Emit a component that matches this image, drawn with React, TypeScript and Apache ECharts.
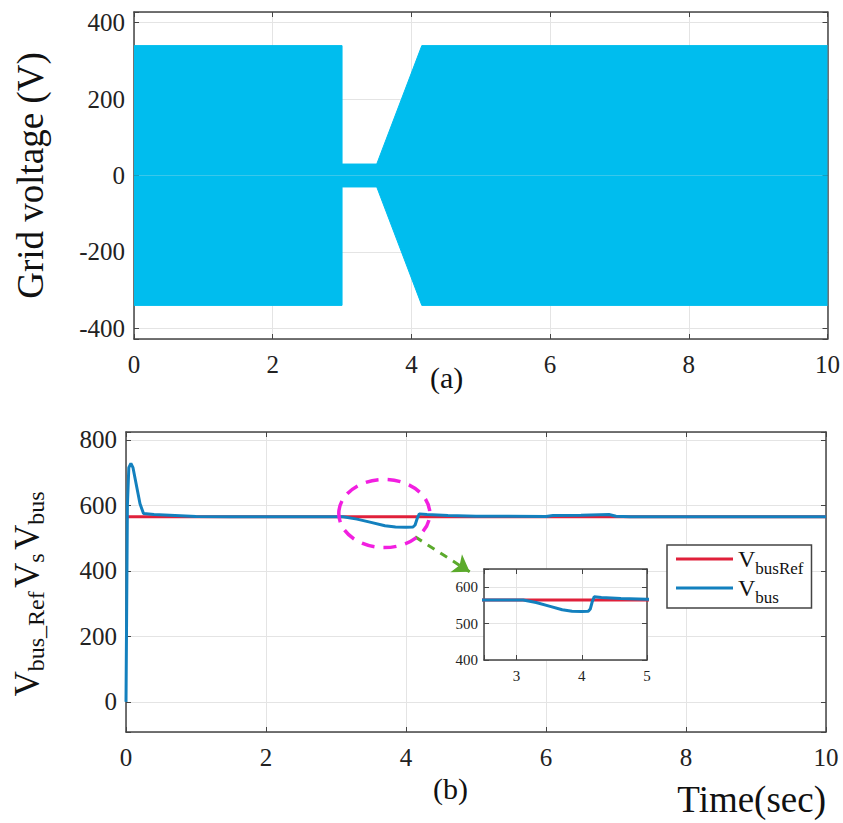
import React, { useEffect, useRef } from "react";
import * as echarts from "echarts";

// ---------- data ----------
// (a) grid voltage: the dense 50 Hz waveform is drawn as its envelope
const voltTime = [0, 3.0, 3.0, 3.5, 4.15, 10];
const voltUpper = [340, 340, 30, 30, 340, 340];
const voltLower = [-340, -340, -30, -30, -340, -340];

// (b) DC bus voltage
const busRefTime = [0, 10];
const busRefValues = [565, 565];
const busTime = [0, 0.01, 0.02, 0.04, 0.07, 0.1, 0.15, 0.2, 0.25, 0.4, 0.7, 1.0, 1.5, 3.1, 3.3, 3.5, 3.7, 3.85, 4.0, 4.1, 4.13, 4.16, 4.19, 4.3, 4.6, 5.0, 6.0, 6.1, 6.5, 6.9, 7.0, 7.2, 10];
const busValues = [0, 300, 600, 715, 728, 715, 660, 605, 575, 572, 569, 566, 565, 565, 558, 548, 538, 534, 533, 534, 540, 560, 574, 572, 569, 567, 566, 569, 570, 572, 567, 565, 565];

// annotations (data coordinates of panel b)
const ellipseCenter = [3.69, 575];
const ellipseRadius = [0.65, 104];
const arrowStart = [4.13, 504];
const arrowEnd = [4.91, 397];

const legendNames = ["VbusRef", "Vbus"];

const SERIF = "Liberation Serif";
const FILL = "#00BDEE";
const RED = "#E0203A";
const BLUE = "#1380BE";
const AXIS = "#444";
const GRIDLINE = "#e4e4e4";

const pairs = (xs: number[], ys: number[]) => xs.map((x, i) => [x, ys[i]]);

function fmt(step: number) {
  return (v: number) => (Math.abs(v / step - Math.round(v / step)) < 1e-6 ? String(Math.round(v)) : "");
}

function labelDef(labels: boolean, fontSize: number, margin: number, step: number) {
  return {
    show: labels, margin, fontSize, fontFamily: SERIF, color: "#222",
    formatter: fmt(step),
  };
}

function xAxisDef(gridIndex: number, min: number, max: number, step: number, position: "top" | "bottom", labels: boolean, fontSize: number, margin: number, z: number) {
  return {
    type: "value", gridIndex, min, max, minInterval: step, maxInterval: step, position, z,
    axisLine: { show: true, onZero: false, lineStyle: { color: AXIS, width: 1.5 } },
    axisTick: { show: true, inside: true, length: 5, lineStyle: { color: AXIS } },
    axisLabel: labelDef(labels, fontSize, margin, step),
    splitLine: { show: labels, lineStyle: { color: GRIDLINE, width: 1 } },
  };
}

function yAxisDef(gridIndex: number, min: number, max: number, step: number, position: "left" | "right", labels: boolean, fontSize: number, margin: number, z: number, extra: any = {}) {
  return {
    type: "value", gridIndex, min, max, minInterval: step, maxInterval: step, position, z,
    axisLine: { show: true, onZero: false, lineStyle: { color: AXIS, width: 1.5 } },
    axisTick: { show: true, inside: true, length: 5, lineStyle: { color: AXIS } },
    axisLabel: labelDef(labels, fontSize, margin, step),
    splitLine: { show: labels, lineStyle: { color: GRIDLINE, width: 1 } },
    ...extra,
  };
}

export default function App() {
  const ref = useRef<HTMLDivElement>(null);

  useEffect(() => {
    if (!ref.current) return;
    const chart = echarts.init(ref.current, null, { renderer: "svg" });

    const option: any = {
      animation: false,
      backgroundColor: "#fff",
      textStyle: { fontFamily: SERIF },
      grid: [
        { left: 134, right: 14, top: 12, height: 327 },
        { left: 126, right: 17, top: 432, height: 300 },
        { left: 484, right: 196, top: 569, height: 91, show: true, backgroundColor: "#fff", borderWidth: 0, z: 5 },
      ],
      xAxis: [
        xAxisDef(0, 0, 10, 2, "bottom", true, 25, 13, 1),
        xAxisDef(0, 0, 10, 2, "top", false, 25, 13, 1),
        xAxisDef(1, 0, 10, 2, "bottom", true, 25, 13, 1),
        xAxisDef(1, 0, 10, 2, "top", false, 25, 13, 1),
        xAxisDef(2, 2.5, 5, 1, "bottom", true, 15, 8, 6),
        xAxisDef(2, 2.5, 5, 1, "top", false, 15, 8, 6),
      ],
      yAxis: [
        yAxisDef(0, -428, 428, 200, "left", true, 25, 9, 1, {
          name: "Grid voltage (V)", nameLocation: "middle", nameGap: 85, nameRotate: 90,
          nameTextStyle: { fontSize: 37, fontFamily: SERIF, color: "#111" },
        }),
        yAxisDef(0, -428, 428, 200, "right", false, 25, 9, 1),
        yAxisDef(1, -92, 824, 200, "left", true, 25, 9, 1),
        yAxisDef(1, -92, 824, 200, "right", false, 25, 9, 1),
        yAxisDef(2, 400, 650, 100, "left", true, 15, 6, 6),
        yAxisDef(2, 400, 650, 100, "right", false, 15, 6, 6),
      ],
      legend: {
        data: legendNames,
        orient: "vertical",
        left: 667, top: 545,
        padding: [2, 8, 2, 9],
        itemGap: -1,
        itemWidth: 57, itemHeight: 3,
        icon: "rect",
        backgroundColor: "#fff",
        borderColor: "#444", borderWidth: 1.5, borderRadius: 0,
        z: 10,
        formatter: (name: string) => (name === "VbusRef" ? "{v|V}{s|busRef}" : "{v|V}{s|bus}"),
        textStyle: {
          fontFamily: SERIF, color: "#111",
          rich: {
            v: { fontSize: 24, fontFamily: SERIF, color: "#111", lineHeight: 36, verticalAlign: "middle" },
            s: { fontSize: 17, fontFamily: SERIF, color: "#111", lineHeight: 36, verticalAlign: "bottom" },
          },
        },
      },
      series: [
        {
          type: "line", name: "upper", xAxisIndex: 0, yAxisIndex: 0, data: pairs(voltTime, voltUpper),
          showSymbol: false, symbol: "none", lineStyle: { color: FILL, width: 1 },
          areaStyle: { color: FILL, opacity: 1, origin: 0 }, silent: true,
        },
        {
          type: "line", name: "lower", xAxisIndex: 0, yAxisIndex: 0, data: pairs(voltTime, voltLower),
          showSymbol: false, symbol: "none", lineStyle: { color: FILL, width: 1 },
          areaStyle: { color: FILL, opacity: 1, origin: 0 }, silent: true,
        },
        {
          type: "line", name: "VbusRef", xAxisIndex: 2, yAxisIndex: 2, data: pairs(busRefTime, busRefValues),
          showSymbol: false, symbol: "none", lineStyle: { color: RED, width: 3 }, itemStyle: { color: RED }, z: 3,
        },
        {
          type: "line", name: "Vbus", xAxisIndex: 2, yAxisIndex: 2, data: pairs(busTime, busValues),
          showSymbol: false, symbol: "none", lineStyle: { color: BLUE, width: 3 }, itemStyle: { color: BLUE }, z: 4,
          markLine: {
            silent: true, animation: false,
            symbol: ["none", "arrow"], symbolSize: 16,
            label: { show: false },
            lineStyle: { color: "#5BAA2C", width: 3, type: [8, 7] },
            data: [[{ coord: arrowStart }, { coord: arrowEnd }]],
          },
        },
        {
          type: "line", name: "VbusRef", xAxisIndex: 4, yAxisIndex: 4, data: pairs(busRefTime, busRefValues),
          showSymbol: false, symbol: "none", lineStyle: { color: RED, width: 3 }, itemStyle: { color: RED }, z: 7,
        },
        {
          type: "line", name: "Vbus", xAxisIndex: 4, yAxisIndex: 4, data: pairs(busTime, busValues),
          showSymbol: false, symbol: "none", lineStyle: { color: BLUE, width: 3 }, itemStyle: { color: BLUE }, z: 8,
        },
      ],
    };

    chart.setOption(option);

    const c = chart.convertToPixel({ xAxisIndex: 2, yAxisIndex: 2 }, ellipseCenter) as number[];
    const e = chart.convertToPixel({ xAxisIndex: 2, yAxisIndex: 2 }, [ellipseCenter[0] + ellipseRadius[0], ellipseCenter[1] + ellipseRadius[1]]) as number[];

    chart.setOption({
      graphic: [
        {
          type: "ellipse", z: 20, silent: true,
          shape: { cx: c[0], cy: c[1], rx: Math.abs(e[0] - c[0]), ry: Math.abs(e[1] - c[1]) },
          style: { fill: "none", stroke: "#F21FE0", lineWidth: 3.5, lineDash: [13, 9] },
        },
        {
          type: "text", x: 27, y: 594, rotation: Math.PI / 2, silent: true,
          style: {
            text: "{v|V}{s|bus_Ref} {v|V}{s|s} {v|V}{s|bus}",
            align: "center", verticalAlign: "middle",
            rich: {
              v: { fontSize: 35, fontFamily: SERIF, fill: "#111", lineHeight: 42, verticalAlign: "middle" },
              s: { fontSize: 24, fontFamily: SERIF, fill: "#111", lineHeight: 42, verticalAlign: "bottom" },
            },
          },
        },
        {
          type: "text", left: 430, top: 362, silent: true,
          style: { text: "(a)", fontSize: 30, fontFamily: SERIF, fill: "#111" },
        },
        {
          type: "text", left: 433, top: 773, silent: true,
          style: { text: "(b)", fontSize: 30, fontFamily: SERIF, fill: "#111" },
        },
        {
          type: "text", right: 17, top: 781, silent: true,
          style: { text: "Time(sec)", fontSize: 37, fontFamily: SERIF, fill: "#111" },
        },
      ],
    });

    return () => chart.dispose();
  }, []);

  return (
    <div
      ref={ref}
      style={{ position: "fixed", left: 0, top: 0, width: 843, height: 823, background: "#fff" }}
    />
  );
}
